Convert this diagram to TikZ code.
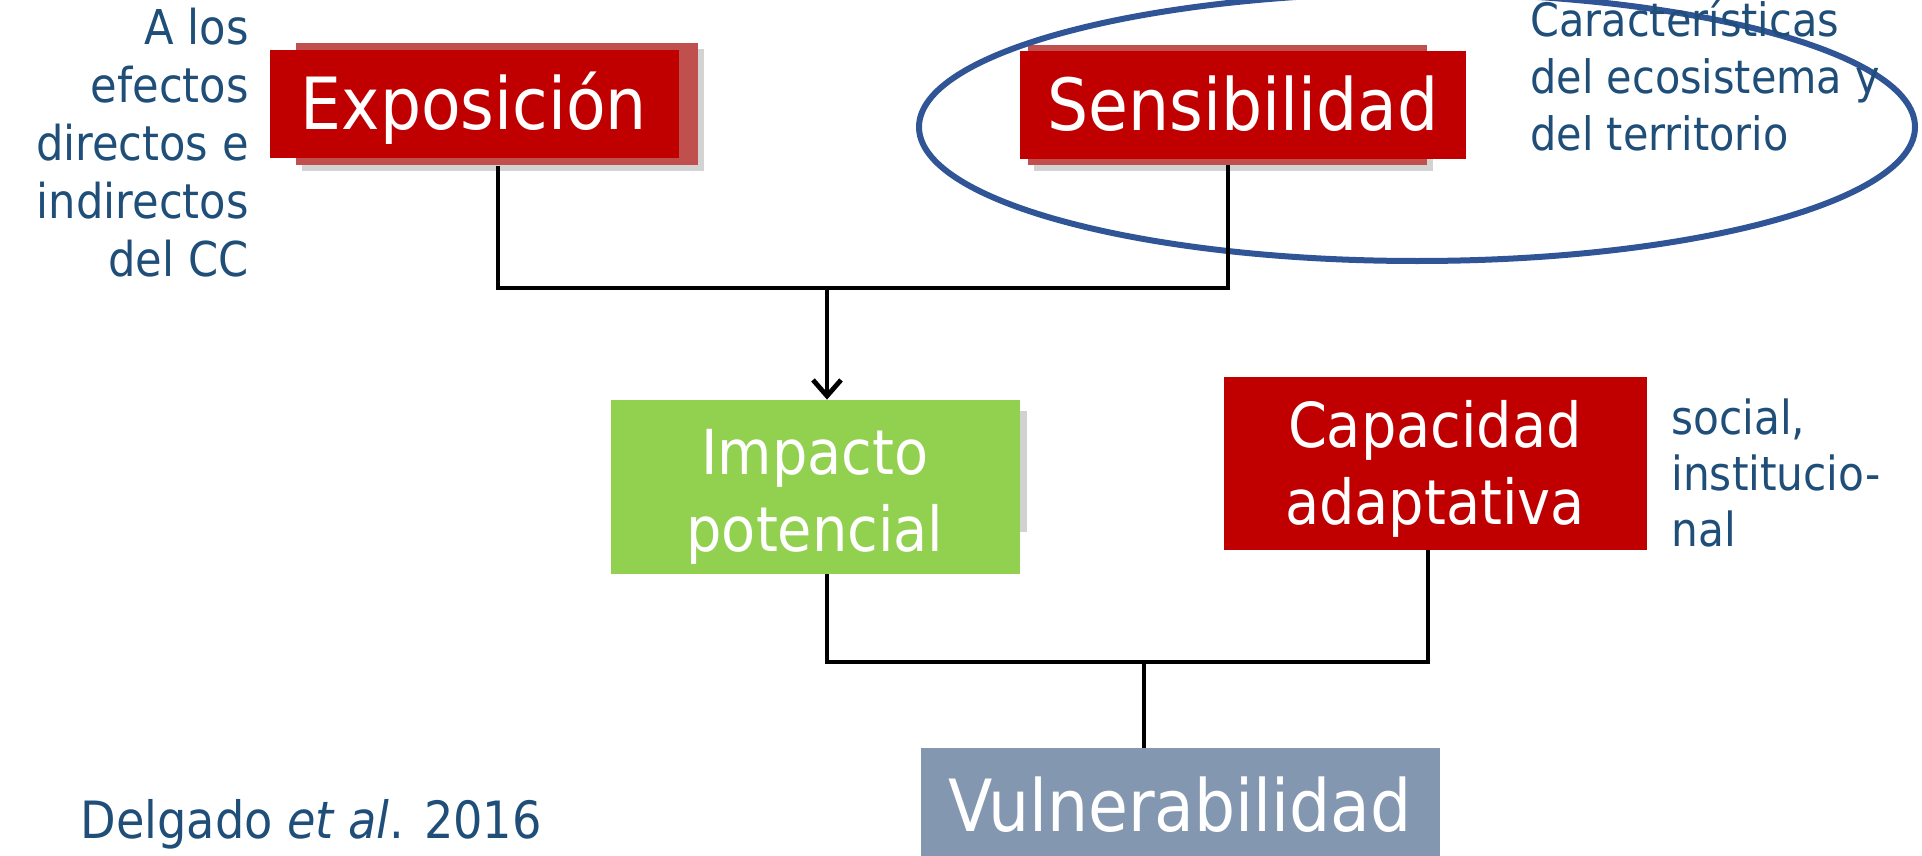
\documentclass[tikz,border=0pt]{standalone}
\usepackage{fontspec}
\setmainfont{DejaVu Sans Condensed}
\usetikzlibrary{shadows,arrows.meta}
\definecolor{boxred}{HTML}{C00000}
\definecolor{backred}{HTML}{C0504D}
\definecolor{boxgreen}{HTML}{92D050}
\definecolor{boxgrey}{HTML}{8497B0}
\definecolor{notes}{HTML}{1F4E79}
\definecolor{ring}{HTML}{2F5597}

\begin{document}
\begin{tikzpicture}
    [x=0.5pt,y=-0.5pt,>={Straight Barb[length=8pt,width=14pt]},
     box/.style={inner sep=0pt,align=center,text=white},
     big/.style={font=\fontsize{36}{43}\selectfont},
     mid/.style={font=\fontsize{31}{38.5}\selectfont},
     note/.style={text=notes,inner sep=0pt,font=\fontsize{24}{29}\selectfont},
     link/.style={line width=2.4pt,black}]
    \useasboundingbox (0,0) rectangle (1922,856);
    \clip (0,0) rectangle (1922,856);
    \fill [backred,drop shadow={shadow xshift=3pt,shadow yshift=-3pt,opacity=0.35}] (296,43) rectangle (698,165);
    \fill [backred,drop shadow={shadow xshift=3pt,shadow yshift=-3pt,opacity=0.35}] (1028,45) rectangle (1427,165);
    \fill [black!18] (1019,411) rectangle (1027,532);
    \node (expo)   at (474,104)  [box,big,fill=boxred,minimum width=204.5pt,text height=40pt,text depth=14pt] {Exposición};
    \node (sens)   at (1243,105) [box,big,fill=boxred,minimum width=223pt,text height=40pt,text depth=14pt] {Sensibilidad};
    \node (impact) at (815,487)  [box,mid,fill=boxgreen,minimum width=204.5pt,minimum height=87pt] {\rule{0pt}{32pt}Impacto\\potencial};
    \node (adapt)  at (1435,463) [box,mid,fill=boxred,minimum width=211.5pt,minimum height=86.5pt] {\rule{0pt}{29.5pt}Capacidad\\adaptativa};
    \node (vuln)   at (1180,831) [box,big,anchor=base,fill=boxgrey,minimum width=259.5pt,text height=41.5pt,text depth=20pt] {Vulnerabilidad};
    \draw [ring,line width=3pt] (1417,127) ellipse [x radius=249pt,y radius=67pt];
    \node (effects) at (249,143) [note,anchor=east,align=right] {A los\\efectos\\directos e\\indirectos\\del CC};
    \node (traits)  at (1530,75) [note,anchor=west,align=left,font=\fontsize{23}{28.5}\selectfont] {Características\\del ecosistema y\\del territorio};
    \node (kinds)   at (1671,473) [note,anchor=west,align=left,font=\fontsize{23.5}{28}\selectfont] {social,\\institucio-\\nal};
    \node (source)  at (80,824)  [note,anchor=west,font=\fontsize{25.7}{30}\selectfont] {Delgado \textit{et al}. 2016};
    \coordinate (topjoin) at (827,288);
    \coordinate (lowjoin) at (1144,662);
    \draw [link] ([xshift=12pt,yshift=-4pt]expo.south) |- (topjoin) -| ([xshift=-7.5pt,yshift=-3pt]sens.south);
    \draw [link,->] (topjoin) -- (topjoin |- impact.north);
    \draw [link] ([xshift=6pt]impact.south) |- (lowjoin) -| ([xshift=-3.5pt]adapt.south);
    \draw [link] (lowjoin) -- (lowjoin |- vuln.north);
  \end{tikzpicture}
\end{document}
